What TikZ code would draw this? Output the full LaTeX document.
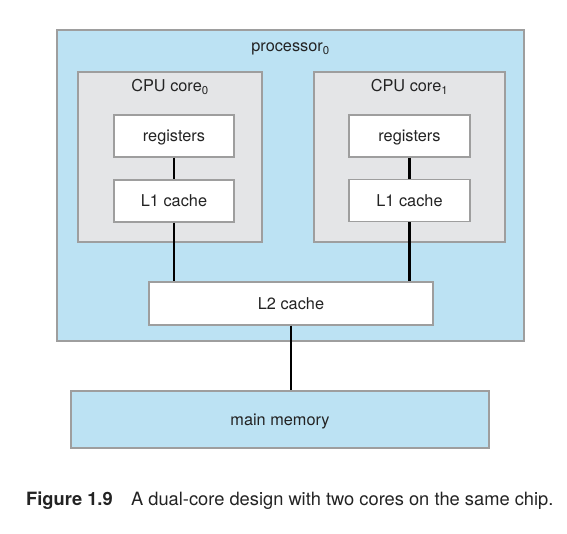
\documentclass[tikz,border=0pt]{standalone}
\usepackage{fontspec}
\setmainfont{TeX Gyre Heros}
\definecolor{chipblue}{RGB}{188,226,243}
\definecolor{coregray}{RGB}{228,229,231}
\definecolor{edgegray}{RGB}{158,158,158}
\definecolor{inkgray}{RGB}{35,35,35}
\begin{document}
\begin{tikzpicture}[x=1pt,y=-1pt,
  blk/.style={draw=edgegray,line width=1.3pt,inner sep=0pt,anchor=center,
    text=inkgray,text height=11.6pt,text depth=0pt,font=\fontsize{16.3}{19}\selectfont},
  chip/.style={blk,fill=chipblue},
  corebox/.style={blk,fill=coregray},
  wbox/.style={blk,fill=white},
  lbl/.style={inner sep=0pt,text=inkgray,font=\fontsize{16.3}{19}\selectfont},
  wire/.style={line width=2.2pt,black}]
\useasboundingbox (0,0) rectangle (567,533);
% processor
\node[chip,minimum width=467pt,minimum height=311pt] (proc) at (290.5,185.5) {};
\node[lbl] (proclbl) at (290.5,49) {processor\textsubscript{0}};
% cores
\node[corebox,minimum width=184pt,minimum height=170pt] (core0) at (170,157) {};
\node[corebox,minimum width=191pt,minimum height=170pt] (core1) at (409.5,157) {};
\node[lbl] (core0lbl) at (170,87) {CPU core\textsubscript{0}};
\node[lbl] (core1lbl) at (409.5,87) {CPU core\textsubscript{1}};
% inner boxes
\node[wbox,minimum width=120pt,minimum height=42pt] (reg0) at (174,136) {registers};
\node[wbox,minimum width=120pt,minimum height=42pt] (l10) at (174,201) {L1 cache};
\node[wbox,minimum width=121pt,minimum height=42pt] (reg1) at (409.5,136) {registers};
\node[wbox,minimum width=121pt,minimum height=42pt] (l11) at (409.5,200.5) {L1 cache};
\node[wbox,minimum width=284pt,minimum height=43pt] (l2) at (291,303.5) {L2 cache};
\node[chip,minimum width=418pt,minimum height=57pt] (mem) at (280,419.5) {main memory};
% wires
\draw[wire] (reg0) -- (l10);
\draw[wire] (reg1) -- (l11);
\draw[wire] (l10.south) -- (l10.south |- l2.north);
\draw[wire] (l11.south) -- (l11.south |- l2.north);
\draw[wire] (l2.south) -- (l2.south |- mem.north);
% caption
\node[inner sep=0pt,anchor=base west,text=inkgray,font=\fontsize{18.3}{21}\selectfont] (cap) at (26,505)
  {\textbf{Figure 1.9}\quad A dual-core design with two cores on the same chip.};
\end{tikzpicture}
\end{document}
